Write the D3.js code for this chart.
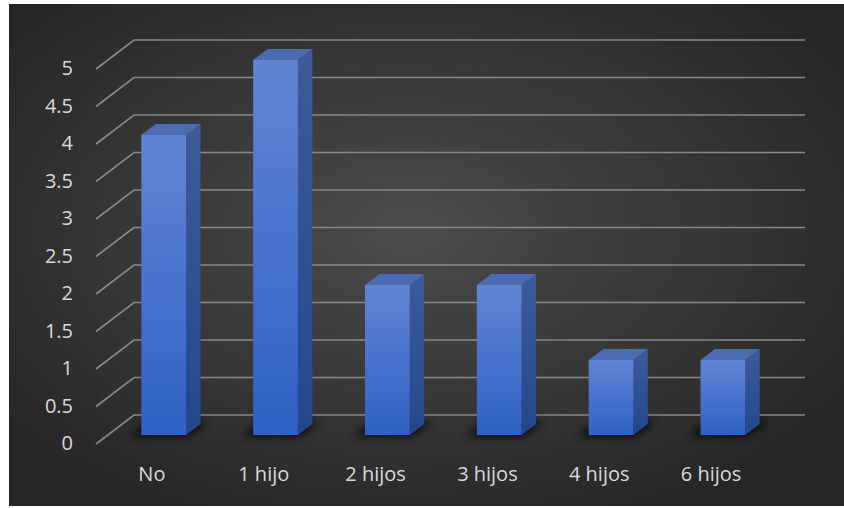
<!DOCTYPE html>
<html>
<head>
<meta charset="utf-8">
<script src="https://cdn.jsdelivr.net/npm/d3@7"></script>
<style>
  html, body { margin: 0; padding: 0; background: #fff; }
  svg { display: block; }
  .tick-label, .cat-label {
    font-family: "Open Sans", sans-serif;
    fill: #dadada;
  }
</style>
</head>
<body>
<svg id="chart" width="844" height="508"></svg>
<script>
const categories = ['No', '1 hijo', '2 hijos', '3 hijos', '4 hijos', '6 hijos'];
const values = [4, 5, 2, 2, 1, 1];
const yTicks = [0, 0.5, 1, 1.5, 2, 2.5, 3, 3.5, 4, 4.5, 5];

const W = 844, H = 508;
const depthX = 38, depthY = -29;     // full depth of the floor / back wall
const barD0 = 0.31, barD1 = 0.69;    // bar depth range (fraction of full depth)

const svg = d3.select('#chart');
const defs = svg.append('defs');

// background radial gradient
const bg = defs.append('radialGradient')
    .attr('id', 'bg-grad')
    .attr('cx', '48%').attr('cy', '45%').attr('r', '62%');
bg.append('stop').attr('offset', '0%').attr('stop-color', '#4b4b4b');
bg.append('stop').attr('offset', '100%').attr('stop-color', '#262626');

const front = defs.append('linearGradient')
    .attr('id', 'bar-front').attr('x1', 0).attr('y1', 0).attr('x2', 0).attr('y2', 1);
front.append('stop').attr('offset', '0%').attr('stop-color', '#6185d4');
front.append('stop').attr('offset', '100%').attr('stop-color', '#2e61c5');

const side = defs.append('linearGradient')
    .attr('id', 'bar-side').attr('x1', 0).attr('y1', 0).attr('x2', 0).attr('y2', 1);
side.append('stop').attr('offset', '0%').attr('stop-color', '#3d5b9c');
side.append('stop').attr('offset', '100%').attr('stop-color', '#22468e');

defs.append('filter')
    .attr('id', 'shadow-blur')
    .attr('x', '-50%').attr('y', '-50%').attr('width', '200%').attr('height', '200%')
  .append('feGaussianBlur')
    .attr('stdDeviation', 4);

svg.append('rect')
    .attr('x', 9).attr('y', 4)
    .attr('width', W - 9).attr('height', 502)
    .attr('fill', 'url(#bg-grad)');

const x = d3.scaleBand()
    .domain(categories)
    .range([96, 767])
    .paddingInner(0.6)
    .paddingOuter(0.3);

const y = d3.scaleLinear()
    .domain([0, 5])
    .range([444, 69]);

// oblique projection: px on front plane, value, depth fraction
function proj(px, v, d) {
    return [px + depthX * d, y(v) + depthY * d];
}
const pts = arr => arr.map(p => p.join(',')).join(' ');

// gridlines: diagonal on the left wall + horizontal on back wall
const grid = svg.append('g').attr('class', 'grid-lines');
const x0 = x.range()[0], x1 = x.range()[1];
yTicks.forEach(v => {
    grid.append('polyline')
        .attr('points', pts([proj(x0, v, 0), proj(x0, v, 1), proj(x1, v, 1)]))
        .attr('fill', 'none')
        .attr('stroke', '#888')
        .attr('stroke-width', 1.7);
});

// y tick labels
svg.append('g').selectAll('text')
    .data(yTicks)
    .join('text')
    .attr('class', 'tick-label')
    .attr('x', 73)
    .attr('y', d => y(d) + 1)
    .attr('text-anchor', 'end')
    .attr('dominant-baseline', 'middle')
    .attr('font-size', 20)
    .text(d => d);

// bars
const bars = svg.append('g').selectAll('g')
    .data(categories.map((c, i) => ({cat: c, val: values[i]})))
    .join('g');

// floor shadow
bars.append('polygon')
    .attr('points', d => {
        const l = x(d.cat) - 10, r = x(d.cat) + x.bandwidth() + 4;
        return pts([proj(l, 0, barD0 - 0.05), proj(r, 0, barD0 - 0.05),
                    proj(r, 0, barD1 + 0.1), proj(l, 0, barD1 + 0.1)]);
    })
    .attr('fill', '#000')
    .attr('opacity', 0.8)
    .attr('filter', 'url(#shadow-blur)');

// side face
bars.append('polygon')
    .attr('points', d => {
        const r = x(d.cat) + x.bandwidth();
        return pts([proj(r, 0, barD0), proj(r, d.val, barD0),
                    proj(r, d.val, barD1), proj(r, 0, barD1)]);
    })
    .attr('fill', 'url(#bar-side)');

// top face
bars.append('polygon')
    .attr('points', d => {
        const l = x(d.cat), r = x(d.cat) + x.bandwidth();
        return pts([proj(l, d.val, barD0), proj(r, d.val, barD0),
                    proj(r, d.val, barD1), proj(l, d.val, barD1)]);
    })
    .attr('fill', '#4c6cb2');

// front face
bars.append('polygon')
    .attr('points', d => {
        const l = x(d.cat), r = x(d.cat) + x.bandwidth();
        return pts([proj(l, 0, barD0), proj(r, 0, barD0),
                    proj(r, d.val, barD0), proj(l, d.val, barD0)]);
    })
    .attr('fill', 'url(#bar-front)');

// category labels
svg.append('g').selectAll('text')
    .data(categories)
    .join('text')
    .attr('class', 'cat-label')
    .attr('x', d => x(d) + x.bandwidth() / 2)
    .attr('y', 476)
    .attr('text-anchor', 'middle')
    .attr('dominant-baseline', 'middle')
    .attr('font-size', 20)
    .text(d => d);
</script>
</body>
</html>
